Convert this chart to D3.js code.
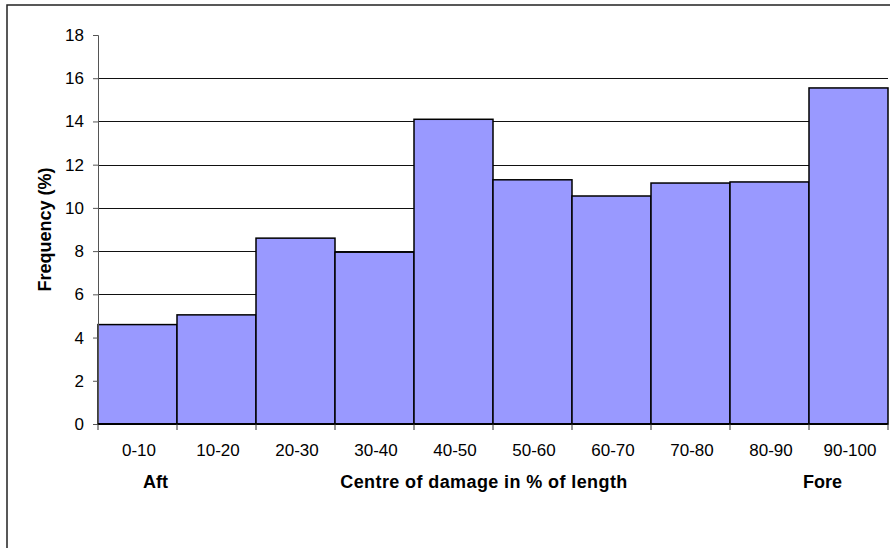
<!DOCTYPE html>
<html>
<head>
<meta charset="utf-8">
<script src="https://cdn.jsdelivr.net/npm/d3@7"></script>
<style>
  html, body { margin: 0; padding: 0; background: #fff; }
  svg { display: block; font-family: "Liberation Sans", Arial, sans-serif; }
</style>
</head>
<body>
<svg id="chart" width="890" height="548"></svg>
<script>
// Damage-centre distribution along the ship length
const categories = ["0-10", "10-20", "20-30", "30-40", "40-50", "50-60", "60-70", "70-80", "80-90", "90-100"];
const frequency = [4.6, 5.05, 8.6, 7.95, 14.1, 11.3, 10.55, 11.15, 11.2, 15.55];
const yTicks = [0, 2, 4, 6, 8, 10, 12, 14, 16, 18];

const svg = d3.select("#chart");

const plotLeft = 98, plotRight = 888, plotTop = 35, plotBottom = 424;

const x = d3.scaleBand().domain(categories).range([plotLeft, plotRight]).padding(0);
const y = d3.scaleLinear().domain([0, 18]).range([plotBottom, plotTop]);

// outer chart frame
svg.append("rect")
  .attr("x", 7).attr("y", 5)
  .attr("width", 900).attr("height", 560)
  .attr("fill", "none")
  .attr("stroke", "#222")
  .attr("stroke-width", 1.5);

// horizontal gridlines (none on the top tick)
svg.append("g")
  .selectAll("line")
  .data(yTicks.filter(d => d > 0 && d < 18))
  .join("line")
  .attr("x1", plotLeft).attr("x2", plotRight)
  .attr("y1", d => Math.round(y(d)) + 0.5)
  .attr("y2", d => Math.round(y(d)) + 0.5)
  .attr("stroke", "#111")
  .attr("stroke-width", 1);

// bars
svg.append("g")
  .selectAll("rect")
  .data(categories)
  .join("rect")
  .attr("x", d => x(d))
  .attr("y", (d, i) => y(frequency[i]))
  .attr("width", x.bandwidth())
  .attr("height", (d, i) => y(0) - y(frequency[i]))
  .attr("fill", "#9999ff")
  .attr("stroke", "#000")
  .attr("stroke-width", 1.5);

// y axis
const yAxis = svg.append("g")
  .attr("transform", `translate(${plotLeft},0)`)
  .call(d3.axisLeft(y).tickValues(yTicks).tickSize(5).tickPadding(9).tickFormat(d3.format("d")));
yAxis.select(".domain").attr("stroke", "#555");
yAxis.selectAll(".tick line").attr("stroke", "#555");
yAxis.selectAll("text")
  .attr("font-size", 17)
  .attr("fill", "#000")
  .attr("font-family", "Liberation Sans, Arial, sans-serif");

// x axis with ticks on category boundaries
const xAxisG = svg.append("g").attr("transform", `translate(0,${plotBottom})`);
xAxisG.append("line")
  .attr("x1", plotLeft).attr("x2", plotRight)
  .attr("y1", 0).attr("y2", 0)
  .attr("stroke", "#000").attr("stroke-width", 2);
const boundaries = categories.map(c => x(c)).concat([plotRight]);
xAxisG.selectAll(".bt")
  .data(boundaries)
  .join("line")
  .attr("class", "bt")
  .attr("x1", d => d).attr("x2", d => d)
  .attr("y1", 0).attr("y2", 6)
  .attr("stroke", "#333");
xAxisG.selectAll(".lbl")
  .data(categories)
  .join("text")
  .attr("class", "lbl")
  .attr("x", d => x(d) + x.bandwidth() / 2 + 1.5)
  .attr("y", 32)
  .attr("text-anchor", "middle")
  .attr("font-size", 17)
  .attr("fill", "#000")
  .text(d => d);

// axis titles
svg.append("text")
  .attr("transform", `translate(51,${(plotTop + plotBottom) / 2}) rotate(-90)`)
  .attr("text-anchor", "middle")
  .attr("font-size", 18)
  .attr("font-weight", "bold")
  .text("Frequency (%)");

const titleY = 488;
svg.append("text")
  .attr("x", 155.5).attr("y", titleY)
  .attr("text-anchor", "middle")
  .attr("font-size", 18).attr("font-weight", "bold")
  .text("Aft");
svg.append("text")
  .attr("x", 484).attr("y", titleY)
  .attr("text-anchor", "middle")
  .attr("font-size", 18).attr("font-weight", "bold")
  .attr("letter-spacing", 0.4)
  .text("Centre of damage in % of length");
svg.append("text")
  .attr("x", 822.5).attr("y", titleY)
  .attr("text-anchor", "middle")
  .attr("font-size", 18).attr("font-weight", "bold")
  .text("Fore");
</script>
</body>
</html>
